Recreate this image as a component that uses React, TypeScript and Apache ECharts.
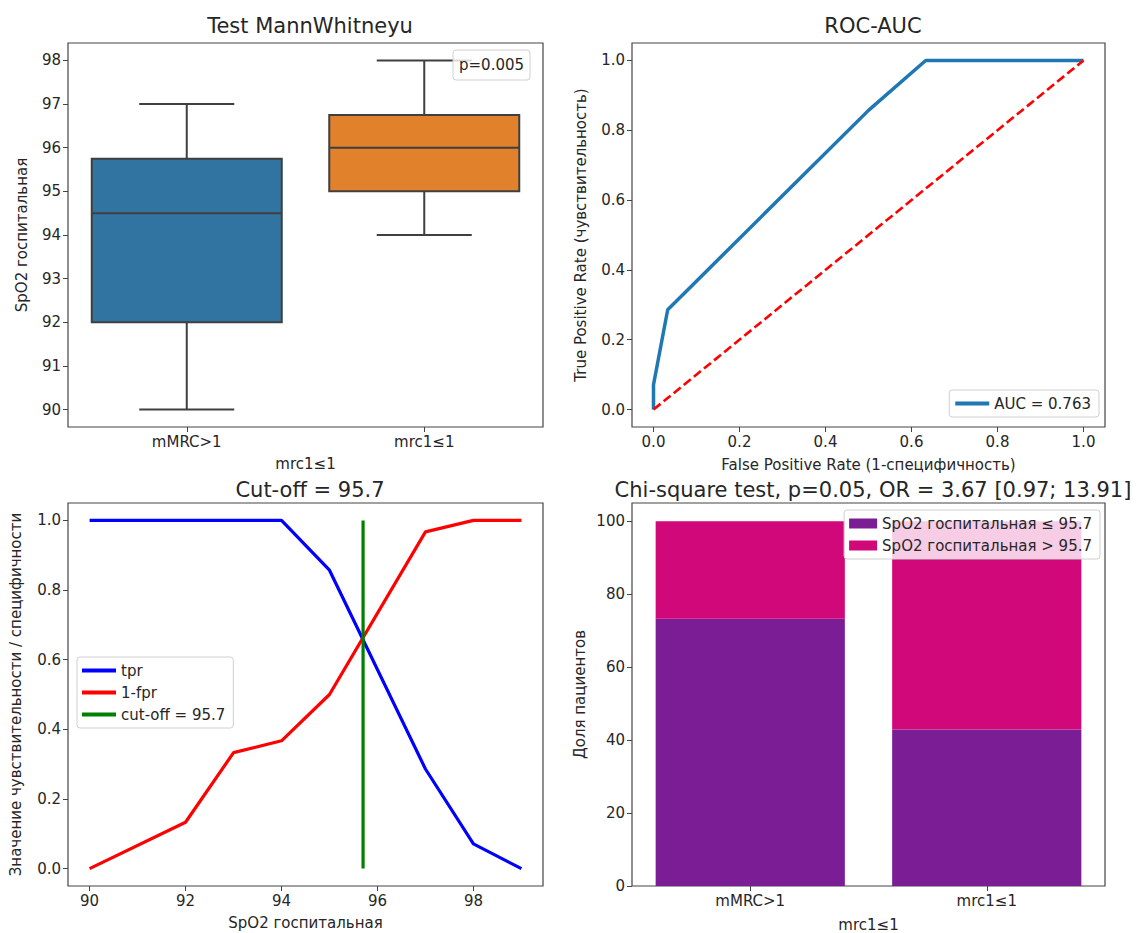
import React, { useEffect, useRef } from "react";
import * as echarts from "echarts";

const groupCategories = ["mMRC>1", "mrc1≤1"];
// [min, q1, median, q3, max]
const boxStats = [
  [90, 92, 94.5, 95.75, 97],
  [94, 95, 96, 96.75, 98],
];
const boxColors = ["#3274a1", "#e1812c"];
const boxTicks = [90, 91, 92, 93, 94, 95, 96, 97, 98];

const rocFpr = [0, 0, 0.033, 0.5, 0.633, 0.667, 0.867, 1];
const rocTpr = [0, 0.071, 0.286, 0.857, 1, 1, 1, 1];
const unitTicks = [0, 0.2, 0.4, 0.6, 0.8, 1.0];

const thresholds = [90, 92, 93, 94, 95, 97, 98, 99];
const tprValues = [1, 1, 1, 1, 0.857, 0.286, 0.071, 0];
const specValues = [0, 0.133, 0.333, 0.367, 0.5, 0.967, 1, 1];
const cutOff = 95.7;
const spo2Ticks = [90, 92, 94, 96, 98];

const lowShare = [73.3, 42.9];
const highShare = [26.7, 57.1];
const shareTicks = [0, 20, 40, 60, 80, 100];

const FONT = "DejaVu Sans";
const TXT = "#262626";
const FS = 15;

export default function App() {
  const ref = useRef<HTMLDivElement>(null);
  useEffect(() => {
    const chart = echarts.init(ref.current!, null, { renderer: "svg" });
    const grids = [
      { left: 68, top: 43, width: 475, height: 384 },
      { left: 632, top: 43, width: 473, height: 384 },
      { left: 68, top: 503, width: 475, height: 383 },
      { left: 632, top: 503, width: 473, height: 383 },
    ].map((g) => ({ ...g, show: true, borderColor: "#444", borderWidth: 1.2, backgroundColor: "transparent" }));

    const label = (custom?: number[], fmt?: (v: number) => string) => ({
      color: TXT,
      fontFamily: FONT,
      fontSize: FS,
      margin: 7,
      ...(custom ? { customValues: custom } : {}),
      ...(fmt ? { formatter: fmt } : {}),
    });
    const tick = (custom?: number[]) => ({
      show: true,
      length: 5,
      inside: false,
      lineStyle: { color: "#444", width: 1 },
      ...(custom ? { customValues: custom } : {}),
    });
    const noLine = { show: false, onZero: false };
    const nameStyle = { color: TXT, fontFamily: FONT, fontSize: FS };
    const f1 = (v: number) => v.toFixed(1);
    const legendBase = {
      orient: "vertical",
      icon: "rect",
      backgroundColor: "rgba(255,255,255,0.8)",
      borderColor: "#d0d0d0",
      borderWidth: 1,
      borderRadius: 3,
      textStyle: { color: TXT, fontFamily: FONT, fontSize: FS },
    };

    const option: any = {
      animation: false,
      backgroundColor: "#fff",
      textStyle: { fontFamily: FONT },
      title: [
        { text: "Test MannWhitneyu", left: 305, top: 10, textAlign: "center" },
        { text: "ROC-AUC", left: 868, top: 10, textAlign: "center" },
        { text: "Cut-off = 95.7", left: 305, top: 474, textAlign: "center" },
        { text: "Chi-square test, p=0.05, OR = 3.67 [0.97; 13.91]", left: 868, top: 474, textAlign: "center" },
      ].map((t) => ({ ...t, textStyle: { color: TXT, fontFamily: FONT, fontSize: 21, fontWeight: "normal" } })),
      grid: grids,
      xAxis: [
        {
          gridIndex: 0,
          type: "category",
          data: groupCategories,
          name: "mrc1≤1",
          nameLocation: "middle",
          nameGap: 29,
          nameTextStyle: nameStyle,
          axisLine: noLine,
          axisTick: { ...tick(), alignWithLabel: true },
          axisLabel: label(),
        },
        {
          gridIndex: 1,
          type: "value",
          min: -0.05,
          max: 1.05,
          name: "False Positive Rate (1-специфичность)",
          nameLocation: "middle",
          nameGap: 30,
          nameTextStyle: nameStyle,
          axisLine: noLine,
          axisTick: tick(unitTicks),
          axisLabel: label(unitTicks, f1),
          splitLine: { show: false },
        },
        {
          gridIndex: 2,
          type: "value",
          min: 89.55,
          max: 99.45,
          name: "SpO2 госпитальная",
          nameLocation: "middle",
          nameGap: 29,
          nameTextStyle: nameStyle,
          axisLine: noLine,
          axisTick: tick(spo2Ticks),
          axisLabel: label(spo2Ticks),
          splitLine: { show: false },
        },
        {
          gridIndex: 3,
          type: "category",
          data: groupCategories,
          name: "mrc1≤1",
          nameLocation: "middle",
          nameGap: 31,
          nameTextStyle: nameStyle,
          axisLine: noLine,
          axisTick: { ...tick(), alignWithLabel: true },
          axisLabel: label(),
        },
      ],
      yAxis: [
        {
          gridIndex: 0,
          type: "value",
          min: 89.6,
          max: 98.4,
          name: "SpO2 госпитальная",
          nameLocation: "middle",
          nameGap: 39,
          nameTextStyle: nameStyle,
          axisLine: noLine,
          axisTick: tick(boxTicks),
          axisLabel: label(boxTicks),
          splitLine: { show: false },
        },
        {
          gridIndex: 1,
          type: "value",
          min: -0.05,
          max: 1.05,
          name: "True Positive Rate (чувствительность)",
          nameLocation: "middle",
          nameGap: 44,
          nameTextStyle: nameStyle,
          axisLine: noLine,
          axisTick: tick(unitTicks),
          axisLabel: label(unitTicks, f1),
          splitLine: { show: false },
        },
        {
          gridIndex: 2,
          type: "value",
          min: -0.05,
          max: 1.05,
          name: "Значение чувствительности / специфичности",
          nameLocation: "middle",
          nameGap: 45,
          nameTextStyle: nameStyle,
          axisLine: noLine,
          axisTick: tick(unitTicks),
          axisLabel: label(unitTicks, f1),
          splitLine: { show: false },
        },
        {
          gridIndex: 3,
          type: "value",
          min: 0,
          max: 105,
          name: "Доля пациентов",
          nameLocation: "middle",
          nameGap: 45,
          nameTextStyle: nameStyle,
          axisLine: noLine,
          axisTick: tick(shareTicks),
          axisLabel: label(shareTicks),
          splitLine: { show: false },
        },
      ],
      legend: [
        {
          ...legendBase,
          data: ["AUC = 0.763"],
          right: 1137 - 1099,
          top: 390,
          itemWidth: 34,
          itemHeight: 4,
          padding: [6, 8, 6, 6],
        },
        {
          ...legendBase,
          data: ["tpr", "1-fpr", "cut-off = 95.7"],
          left: 77,
          top: 657,
          itemWidth: 34,
          itemHeight: 4,
          itemGap: 7,
          padding: [6, 8, 6, 5],
        },
        {
          ...legendBase,
          data: ["SpO2 госпитальная ≤ 95.7", "SpO2 госпитальная > 95.7"],
          right: 1137 - 1100,
          top: 510,
          itemWidth: 28,
          itemHeight: 10,
          itemGap: 7,
          padding: [6, 8, 6, 5],
        },
      ],
      series: [
        {
          type: "custom",
          name: "box",
          xAxisIndex: 0,
          yAxisIndex: 0,
          data: boxStats.map((s, i) => [i, ...s]),
          renderItem: (params: any, api: any) => {
            const idx = api.value(0);
            const bw = api.size([1, 0])[0] * 0.8;
            const [cx, yMin] = api.coord([idx, api.value(1)]);
            const yQ1 = api.coord([idx, api.value(2)])[1];
            const yMed = api.coord([idx, api.value(3)])[1];
            const yQ3 = api.coord([idx, api.value(4)])[1];
            const yMax = api.coord([idx, api.value(5)])[1];
            const edge = { stroke: "#3f3f3f", lineWidth: 2 };
            return {
              type: "group",
              children: [
                { type: "line", shape: { x1: cx, y1: yQ1, x2: cx, y2: yMin }, style: edge },
                { type: "line", shape: { x1: cx, y1: yQ3, x2: cx, y2: yMax }, style: edge },
                { type: "line", shape: { x1: cx - bw / 4, y1: yMin, x2: cx + bw / 4, y2: yMin }, style: edge },
                { type: "line", shape: { x1: cx - bw / 4, y1: yMax, x2: cx + bw / 4, y2: yMax }, style: edge },
                {
                  type: "rect",
                  shape: { x: cx - bw / 2, y: yQ3, width: bw, height: yQ1 - yQ3 },
                  style: { fill: boxColors[params.dataIndex], stroke: "#3f3f3f", lineWidth: 2 },
                },
                { type: "line", shape: { x1: cx - bw / 2, y1: yMed, x2: cx + bw / 2, y2: yMed }, style: edge },
              ],
            };
          },
        },
        {
          type: "line",
          name: "AUC = 0.763",
          xAxisIndex: 1,
          yAxisIndex: 1,
          data: rocFpr.map((x, i) => [x, rocTpr[i]]),
          showSymbol: false,
          lineStyle: { color: "#1f77b4", width: 3.5 },
          itemStyle: { color: "#1f77b4" },
          z: 3,
        },
        {
          type: "line",
          name: "diag",
          xAxisIndex: 1,
          yAxisIndex: 1,
          data: [
            [0, 0],
            [1, 1],
          ],
          showSymbol: false,
          lineStyle: { color: "#ff0000", width: 2.6, type: [9, 4] },
          z: 4,
        },
        {
          type: "line",
          name: "tpr",
          xAxisIndex: 2,
          yAxisIndex: 2,
          data: thresholds.map((x, i) => [x, tprValues[i]]),
          showSymbol: false,
          lineStyle: { color: "#0000ff", width: 3.2 },
          itemStyle: { color: "#0000ff" },
        },
        {
          type: "line",
          name: "1-fpr",
          xAxisIndex: 2,
          yAxisIndex: 2,
          data: thresholds.map((x, i) => [x, specValues[i]]),
          showSymbol: false,
          lineStyle: { color: "#ff0000", width: 3.2 },
          itemStyle: { color: "#ff0000" },
        },
        {
          type: "line",
          name: "cut-off = 95.7",
          xAxisIndex: 2,
          yAxisIndex: 2,
          data: [
            [cutOff, 0],
            [cutOff, 1],
          ],
          showSymbol: false,
          lineStyle: { color: "#008000", width: 3.2 },
          itemStyle: { color: "#008000" },
        },
        {
          type: "bar",
          name: "SpO2 госпитальная ≤ 95.7",
          xAxisIndex: 3,
          yAxisIndex: 3,
          stack: "s",
          barWidth: "80%",
          data: lowShare,
          itemStyle: { color: "#7b1e96" },
        },
        {
          type: "bar",
          name: "SpO2 госпитальная > 95.7",
          xAxisIndex: 3,
          yAxisIndex: 3,
          stack: "s",
          barWidth: "80%",
          data: highShare,
          itemStyle: { color: "#d10879" },
        },
      ],
      graphic: [
        {
          type: "rect",
          shape: { x: 453, y: 50, width: 77, height: 30, r: 3 },
          style: { fill: "rgba(255,255,255,0.8)", stroke: "#d0d0d0", lineWidth: 1 },
          z: 10,
        },
        {
          type: "text",
          x: 459,
          y: 65,
          style: { text: "p=0.005", fill: TXT, font: `${FS}px "${FONT}"`, verticalAlign: "middle" },
          z: 11,
        },
      ],
    };
    chart.setOption(option);
    return () => chart.dispose();
  }, []);
  return <div ref={ref} style={{ position: "absolute", left: 0, top: 0, width: 1137, height: 933 }} />;
}
